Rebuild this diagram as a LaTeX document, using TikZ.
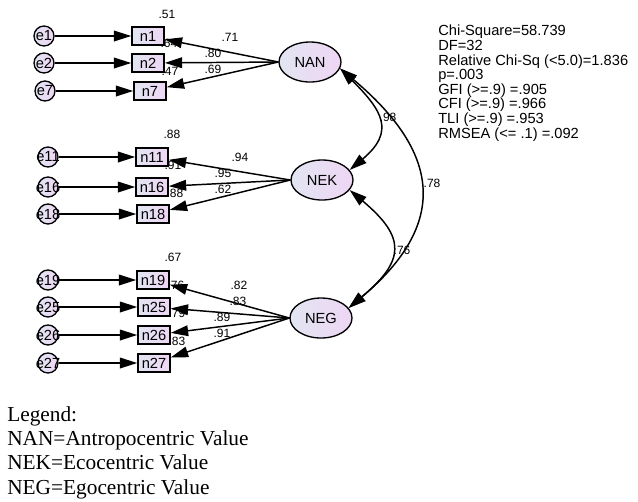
\documentclass[tikz,border=0pt]{standalone}
\usepackage{fontspec}
\setmainfont{Liberation Serif}
\newfontfamily\amosfont{Liberation Sans}
\usetikzlibrary{arrows.meta,shapes.geometric}
\definecolor{lavL}{RGB}{226,229,242}
\definecolor{lavR}{RGB}{238,214,244}
\newcommand{\errlabel}[1]{\makebox[0pt]{#1}}

\begin{document}
\begin{tikzpicture}[
  x=0.75pt,y=-0.75pt,
  every node/.style={font=\amosfont\fontsize{11}{13}\selectfont},
  >={Triangle[length=13pt,width=8pt]},
  amosfill/.style={draw,line width=1pt,left color=lavL,right color=lavR},
  obs/.style={amosfill,rectangle,line width=1.2pt,minimum width=24pt,minimum height=13.5pt,inner sep=0pt},
  err/.style={amosfill,circle,minimum size=15pt,inner sep=0pt},
  latent/.style={amosfill,ellipse,minimum width=46.5pt,minimum height=30pt,inner sep=0pt},
  val/.style={inner sep=0pt,font=\amosfont\fontsize{9}{10}\selectfont},
  load/.style={->,line width=1.1pt},
  cov/.style={<->,line width=1.1pt},
  stats/.style={anchor=north west,inner sep=0pt,align=left,font=\amosfont\fontsize{11}{10.95}\selectfont},
  legend/.style={anchor=north west,inner sep=0pt,align=left,font=\fontsize{16}{18.25}\selectfont}
  ]
  \useasboundingbox (0,0) rectangle (638,501);

  % latent factors
  \node[latent] (NAN) at (310,62) {NAN};
  \node[latent] (NEK) at (322,180) {NEK};
  \node[latent] (NEG) at (321,318) {NEG};

  % NAN block
  \node[err] (e1) at (44,36) {e1};
  \node[err] (e2) at (44,63) {e2};
  \node[err] (e7) at (45,91) {e7};
  \node[obs] (n1) at (148,36) {n1};
  \node[obs] (n2) at (148,63) {n2};
  \node[obs] (n7) at (150,91) {n7};
  \node[val] (r1) at (167,14) {.51};
  \node[val] (r2) at (169,43) {.64};
  \node[val] (r7) at (170,71) {.47};
  \node[val] (l1) at (230,37) {.71};
  \node[val] (l2) at (213,53) {.80};
  \node[val] (l7) at (213,69) {.69};

  % NEK block
  \node[err] (e11) at (48,157) {\errlabel{e11}};
  \node[err] (e16) at (48,187) {\errlabel{e16}};
  \node[err] (e18) at (48,214) {\errlabel{e18}};
  \node[obs] (n11) at (152,157) {n11};
  \node[obs] (n16) at (152,187) {n16};
  \node[obs] (n18) at (153,214) {n18};
  \node[val] (r11) at (172,134) {.88};
  \node[val] (r16) at (173,165) {.91};
  \node[val] (r18) at (175,193) {.88};
  \node[val] (l11) at (240,157) {.94};
  \node[val] (l16) at (223,173) {.95};
  \node[val] (l18) at (223,189) {.62};

  % NEG block
  \node[err] (e19) at (48,280) {\errlabel{e19}};
  \node[err] (e25) at (48,307) {\errlabel{e25}};
  \node[err] (e26) at (48,335) {\errlabel{e26}};
  \node[err] (e27) at (48,363) {\errlabel{e27}};
  \node[obs] (n19) at (153,280) {n19};
  \node[obs] (n25) at (154,307) {n25};
  \node[obs] (n26) at (154,335) {n26};
  \node[obs] (n27) at (154,363) {n27};
  \node[val] (r19) at (173,257) {.67};
  \node[val] (r25) at (176,285) {.76};
  \node[val] (r26) at (177,313) {.79};
  \node[val] (r27) at (177,341) {.83};
  \node[val] (l19) at (239,285) {.82};
  \node[val] (l25) at (238,301) {.83};
  \node[val] (l26) at (222,317) {.89};
  \node[val] (l27) at (222,333) {.91};

  \draw[load] (e1) -- (n1);
  \draw[load] (e2) -- (n2);
  \draw[load] (e7) -- (n7);
  \draw[load] (e11) -- (n11);
  \draw[load] (e16) -- (n16);
  \draw[load] (e18) -- (n18);
  \draw[load] (e19) -- (n19);
  \draw[load] (e25) -- (n25);
  \draw[load] (e26) -- (n26);
  \draw[load] (e27) -- (n27);

  \draw[load] (NAN.west) -- (n1);
  \draw[load] (NAN.west) -- (n2);
  \draw[load] (NAN.west) -- (n7);
  \draw[load] (NEK.west) -- (n11);
  \draw[load] (NEK.west) -- (n16);
  \draw[load] (NEK.west) -- (n18);
  \draw[load] (NEG.west) -- (n19);
  \draw[load] (NEG.west) -- (n25);
  \draw[load] (NEG.west) -- (n26);
  \draw[load] (NEG.west) -- (n27);

  % correlations
  \draw[cov] (NAN.-12) to[out=-45,in=40,looseness=1.5] (NEK.20);
  \draw[cov] (NEK.-20) to[out=-40,in=40,looseness=1.6] (NEG.20);
  \draw[cov] (NAN.-12) to[out=-40,in=40,looseness=1.4] (NEG.20);
  \node[val] (c1) at (388,117) {.98};
  \node[val] (c2) at (402,250) {.76};
  \node[val] (c3) at (432,183) {.78};

  \node[stats] (fit) at (438,25) {Chi-Square=58.739\\DF=32\\Relative Chi-Sq (<5.0)=1.836\\p=.003\\GFI (>=.9) =.905\\CFI (>=.9) =.966\\TLI (>=.9) =.953\\RMSEA (<= .1) =.092};
  \node[legend] (leg) at (7,406) {Legend:\\NAN=Antropocentric Value\\NEK=Ecocentric Value\\NEG=Egocentric Value};
\end{tikzpicture}
\end{document}
